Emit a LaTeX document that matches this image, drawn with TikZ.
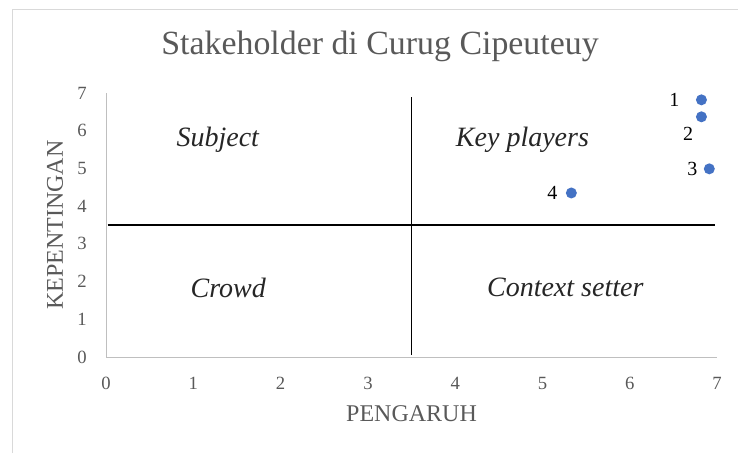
\documentclass[tikz,border=0pt]{standalone}
\usepackage{fontspec}
\setmainfont{Liberation Serif}
\usetikzlibrary{positioning}

\definecolor{dotblue}{HTML}{4472C4}
\definecolor{axgray}{HTML}{BFBFBF}
\definecolor{txtgray}{HTML}{595959}
\definecolor{framegray}{HTML}{D9D9D9}

\begin{document}
\begin{tikzpicture}[x=0.75pt, y=-0.75pt,
  tick/.style={text=txtgray, inner sep=0pt, font=\fontsize{14}{16}\selectfont},
  axtitle/.style={text=txtgray, inner sep=0pt, font=\fontsize{18}{20}\selectfont},
  quad/.style={text=black!85, inner sep=0pt, font=\fontsize{21}{23}\selectfont\itshape},
  dot/.style={circle, fill=dotblue, inner sep=0pt, minimum size=8.25pt},
  num/.style={inner sep=0pt, font=\fontsize{15}{17}\selectfont}]
\useasboundingbox (0,0) rectangle (738,453);

% Rahmen
\draw[framegray] (12,453) -- (12,9) -- (738,9);

% Judul
\node[text=txtgray, font=\fontsize{25.4}{28}\selectfont] (title) at (380,46) {Stakeholder di Curug Cipeuteuy};

\begin{scope}[shift={(106,357)}, x=65.48pt, y=28.28pt]
% Sumbu
\draw[axgray] (0,0) -- (7,0);
\draw[axgray] (0,0) -- (0,7);
\foreach \i in {0,...,7} {
  \node[tick] (xt\i) at (\i,-0.69) {\i};
  \node[tick] (yt\i) at (-0.275,\i) {\i};
}
\node[axtitle] (xlabel) at (3.5,-1.49) {PENGARUH};
\node[axtitle, rotate=90] (ylabel) at (-0.584,3.5) {KEPENTINGAN};

% Kuadran
\draw[black, line width=0.9pt] (0.02,3.5) -- (6.98,3.5);
\draw[black, line width=0.9pt] (3.5,0.05) -- (3.5,6.9);
\node[quad] (subject) at (1.28,5.76) {Subject};
\node[quad] (keyplayers) at (4.77,5.76) {Key players};
\node[quad] (crowd) at (1.40,1.83) {Crowd};
\node[quad] (context) at (5.26,1.86) {Context setter};

% Stakeholder
\node[dot] (p1) at (6.82,6.82) {};
\node[dot] (p2) at (6.82,6.37) {};
\node[dot] (p3) at (6.91,4.99) {};
\node[dot] (p4) at (5.33,4.35) {};
\node[num, left=12pt of p1] (n1) {1};
\node[num, below left=4.5pt and 3pt of p2] (n2) {2};
\node[num, left=4.5pt of p3] (n3) {3};
\node[num, left=6pt of p4] (n4) {4};
\end{scope}
\end{tikzpicture}
\end{document}
